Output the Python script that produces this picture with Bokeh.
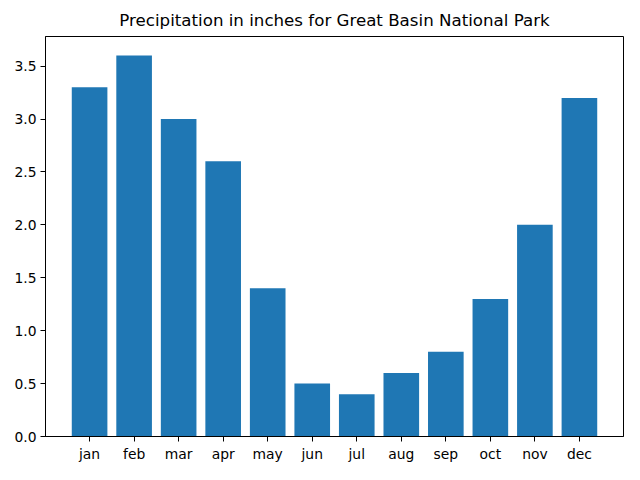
from bokeh.plotting import figure
from bokeh.models import FactorRange, Range1d, FixedTicker, PrintfTickFormatter
from bokeh.embed import file_html
from bokeh.resources import INLINE

months = ["jan", "feb", "mar", "apr", "may", "jun", "jul", "aug", "sep", "oct", "nov", "dec"]
precip = [3.3, 3.6, 3.0, 2.6, 1.4, 0.5, 0.4, 0.6, 0.8, 1.3, 2.0, 3.2]
y_ticks = [0.0, 0.5, 1.0, 1.5, 2.0, 2.5, 3.0, 3.5]

FONT = "DejaVu Sans"

p = figure(
    width=624, height=464,
    x_range=FactorRange(*months, range_padding=0.98 / 12),
    y_range=Range1d(0, 3.78),
    output_backend="svg", toolbar_location=None,
    title="Precipitation in inches for Great Basin National Park",
    min_border_left=45, min_border_right=1, min_border_top=36, min_border_bottom=25,
)
p.vbar(x=months, top=precip, width=0.8, color="#1f77b4", line_color=None)

p.title.text_font = FONT
p.title.text_font_size = "16.67px"
p.title.text_font_style = "normal"
p.title.align = "center"
p.title.text_color = "black"
p.title.standoff = 13

p.xgrid.visible = False
p.ygrid.visible = False
p.outline_line_color = "black"
p.outline_line_width = 1
p.background_fill_color = "white"
p.border_fill_color = "white"

for ax in (p.xaxis, p.yaxis):
    ax.major_label_text_font = FONT
    ax.major_label_text_font_size = "13.89px"
    ax.major_label_text_color = "black"
    ax.axis_line_color = "black"
    ax.major_tick_line_color = "black"
    ax.major_tick_out = 5
    ax.major_tick_in = 0
    ax.minor_tick_line_color = None
    ax.major_label_standoff = 4

p.yaxis.ticker = FixedTicker(ticks=y_ticks)
p.yaxis.formatter = PrintfTickFormatter(format="%.1f")

open("out.html", "w").write(file_html(p, INLINE))
